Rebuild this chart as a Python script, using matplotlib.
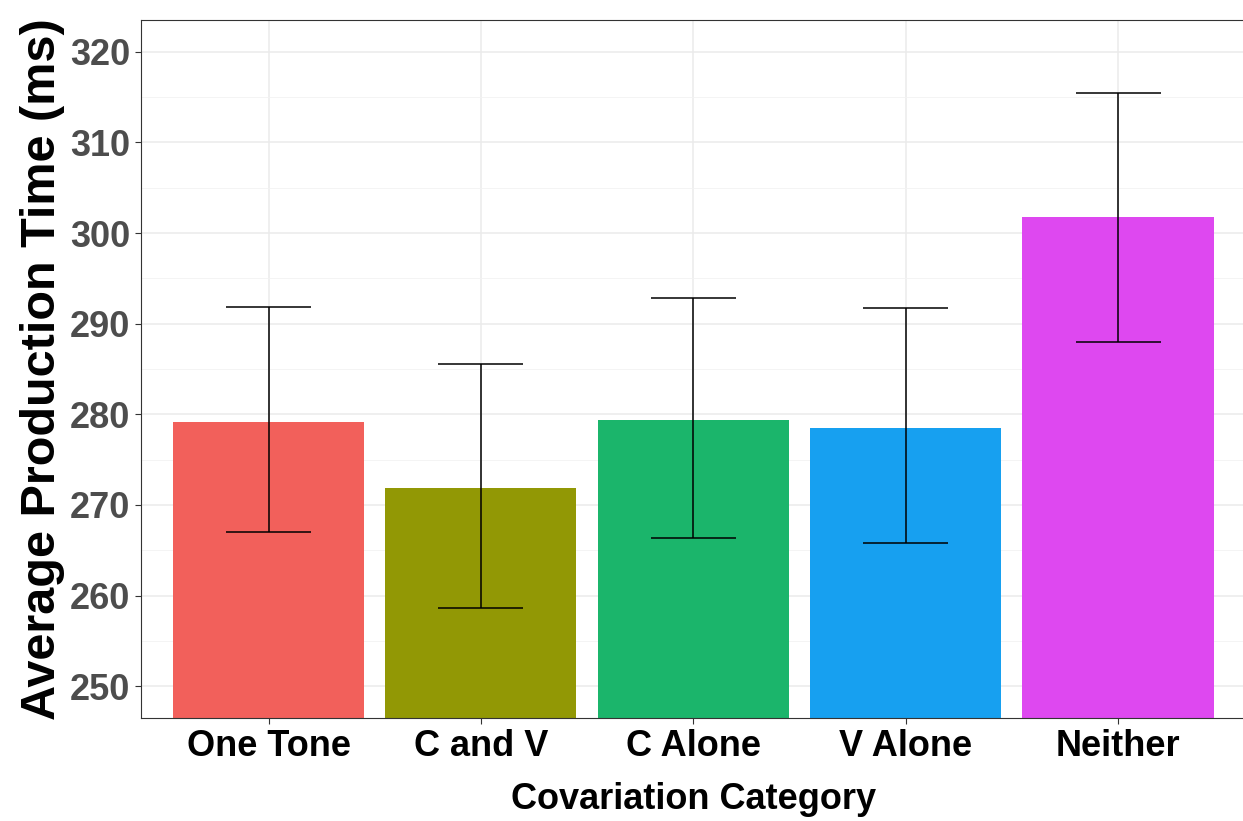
import numpy as np
import matplotlib.pyplot as plt
from matplotlib.ticker import MultipleLocator

categories = ["One Tone", "C and V", "C Alone", "V Alone", "Neither"]
means = [279.2, 271.9, 279.4, 278.5, 301.8]
err_low = [267.0, 258.6, 266.3, 265.8, 288.0]
err_high = [291.8, 285.5, 292.8, 291.7, 315.5]
colors = ["#F2605B", "#929805", "#1BB56B", "#17A0F0", "#DE48F0"]

plt.rcParams['font.family'] = ['Liberation Sans', 'DejaVu Sans']
plt.rcParams['font.weight'] = 'bold'

fig = plt.figure(figsize=(12.43, 8.21), dpi=100)
# right edge of the panel sits just past the figure edge, as in the original
ax = fig.add_axes([0.1135, 0.1255, 0.8885, 0.8501])

x = np.arange(1, len(categories) + 1)

# grid first, behind everything
ax.set_axisbelow(True)
ax.yaxis.set_major_locator(MultipleLocator(10))
ax.yaxis.set_minor_locator(MultipleLocator(5))
ax.grid(True, which='major', color='#EBEBEB', linewidth=1.1)
ax.grid(True, which='minor', axis='y', color='#F2F2F2', linewidth=0.6)

ax.bar(x, means, width=0.9, color=colors, bottom=0)

# error bars
ax.vlines(x, err_low, err_high, color='black', linewidth=1.1, zorder=3)
ax.hlines(err_low, x - 0.2, x + 0.2, color='black', linewidth=1.1, zorder=3)
ax.hlines(err_high, x - 0.2, x + 0.2, color='black', linewidth=1.1, zorder=3)

ax.set_xlim(0.4, 5.6)
ax.set_ylim(246.5, 323.5)
ax.set_xticks(x)
ax.set_xticklabels(categories)

ax.tick_params(axis='y', which='major', labelsize=26, labelcolor='#4D4D4D',
               length=4, width=0.8, color='#333333', pad=4)
ax.tick_params(axis='y', which='minor', length=0)
ax.tick_params(axis='x', labelsize=26, labelcolor='black',
               length=4, width=0.8, color='#333333', pad=4)

for s in ax.spines.values():
    s.set_color('#333333')
    s.set_linewidth(0.8)
ax.spines['right'].set_visible(False)

ax.set_xlabel("Covariation Category", fontsize=26, fontweight='bold', labelpad=13)
ax.set_ylabel("Average Production Time (ms)", fontsize=35, fontweight='bold', labelpad=3)

fig.savefig("out.png", dpi=100)
